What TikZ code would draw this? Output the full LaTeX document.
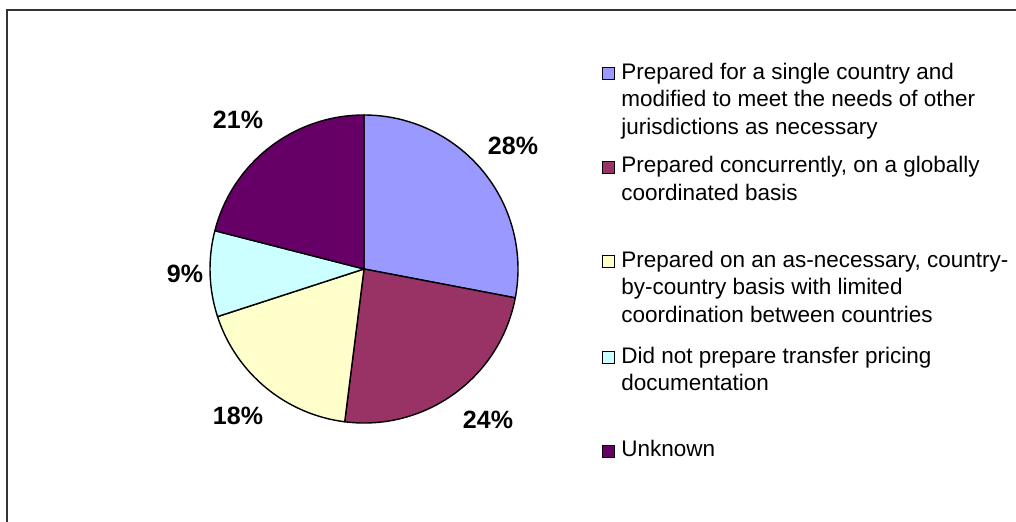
\documentclass[tikz,border=0pt]{standalone}
\usepackage{fontspec}
\setmainfont{Liberation Sans}
\usepackage{xcolor}
\usetikzlibrary{positioning}
\definecolor{slicea}{HTML}{9999FF}
\definecolor{sliceb}{HTML}{993366}
\definecolor{slicec}{HTML}{FFFFCC}
\definecolor{sliced}{HTML}{CCFFFF}
\definecolor{slicee}{HTML}{660066}
\tikzset{%
	slice/.style   = {draw=black, line width=1pt, line join=round},
	pct/.style     = {font=\fontsize{17.8pt}{20pt}\selectfont\bfseries, inner sep=0pt}, % percent label
	legbox/.style  = {draw=black, line width=0.6pt, minimum size=8.5pt, inner sep=0pt, anchor=south east}, % key square
	legtext/.style = {font=\fontsize{16pt}{19.7pt}\selectfont, align=left, anchor=base west, inner sep=0pt},
	frame/.style   = {draw=black!80, line width=1.4pt},
}

\begin{document}
\begin{tikzpicture}[x=0.25mm,y=0.25mm]
	\useasboundingbox (0,0) rectangle (1016,522);
	\draw[frame] (7,0) |- (1016,512);

	\coordinate (o) at (364,253);
	\filldraw[slice,fill=slicea] (o) -- ++(90:154) arc[start angle=90,end angle=-10.8,radius=154] -- cycle;
	\filldraw[slice,fill=sliceb] (o) -- ++(-10.8:154) arc[start angle=-10.8,end angle=-97.2,radius=154] -- cycle;
	\filldraw[slice,fill=slicec] (o) -- ++(-97.2:154) arc[start angle=-97.2,end angle=-162,radius=154] -- cycle;
	\filldraw[slice,fill=sliced] (o) -- ++(-162:154) arc[start angle=-162,end angle=-194.4,radius=154] -- cycle;
	\filldraw[slice,fill=slicee] (o) -- ++(165.6:154) arc[start angle=165.6,end angle=90,radius=154] -- cycle;

	\node[pct] (p28) at (513,376) {28\%};
	\node[pct] (p24) at (488,102) {24\%};
	\node[pct] (p18) at (238,106) {18\%};
	\node[pct] (p9)  at (185,248) {9\%};
	\node[pct] (p21) at (238,402) {21\%};

	% legend, each text set on the baseline of its last line
	\node[legtext] (t1) at (621,387.6) {Prepared for a single country and\\modified to meet the needs of other\\jurisdictions as necessary};
	\node[legtext] (t2) at (621,321.3) {Prepared concurrently, on a globally\\coordinated basis};
	\node[legtext] (t3) at (621,199.6) {Prepared on an as-necessary, country-\\by-country basis with limited\\coordination between countries};
	\node[legtext] (t4) at (621,131.3) {Did not prepare transfer pricing\\documentation};
	\node[legtext] (t5) at (621,65) {Unknown};

	\node[legbox,fill=slicea,left=4.3pt of t1.base west,anchor=south east,yshift=38.7pt] (k1) {};
	\node[legbox,fill=sliceb,left=4.3pt of t2.base west,anchor=south east,yshift=19pt] (k2) {};
	\node[legbox,fill=slicec,left=4.3pt of t3.base west,anchor=south east,yshift=38.7pt] (k3) {};
	\node[legbox,fill=sliced,left=4.3pt of t4.base west,anchor=south east,yshift=19pt] (k4) {};
	\node[legbox,fill=slicee,left=4.3pt of t5.base west,anchor=south east,yshift=-0.7pt] (k5) {};
\end{tikzpicture}
\end{document}
